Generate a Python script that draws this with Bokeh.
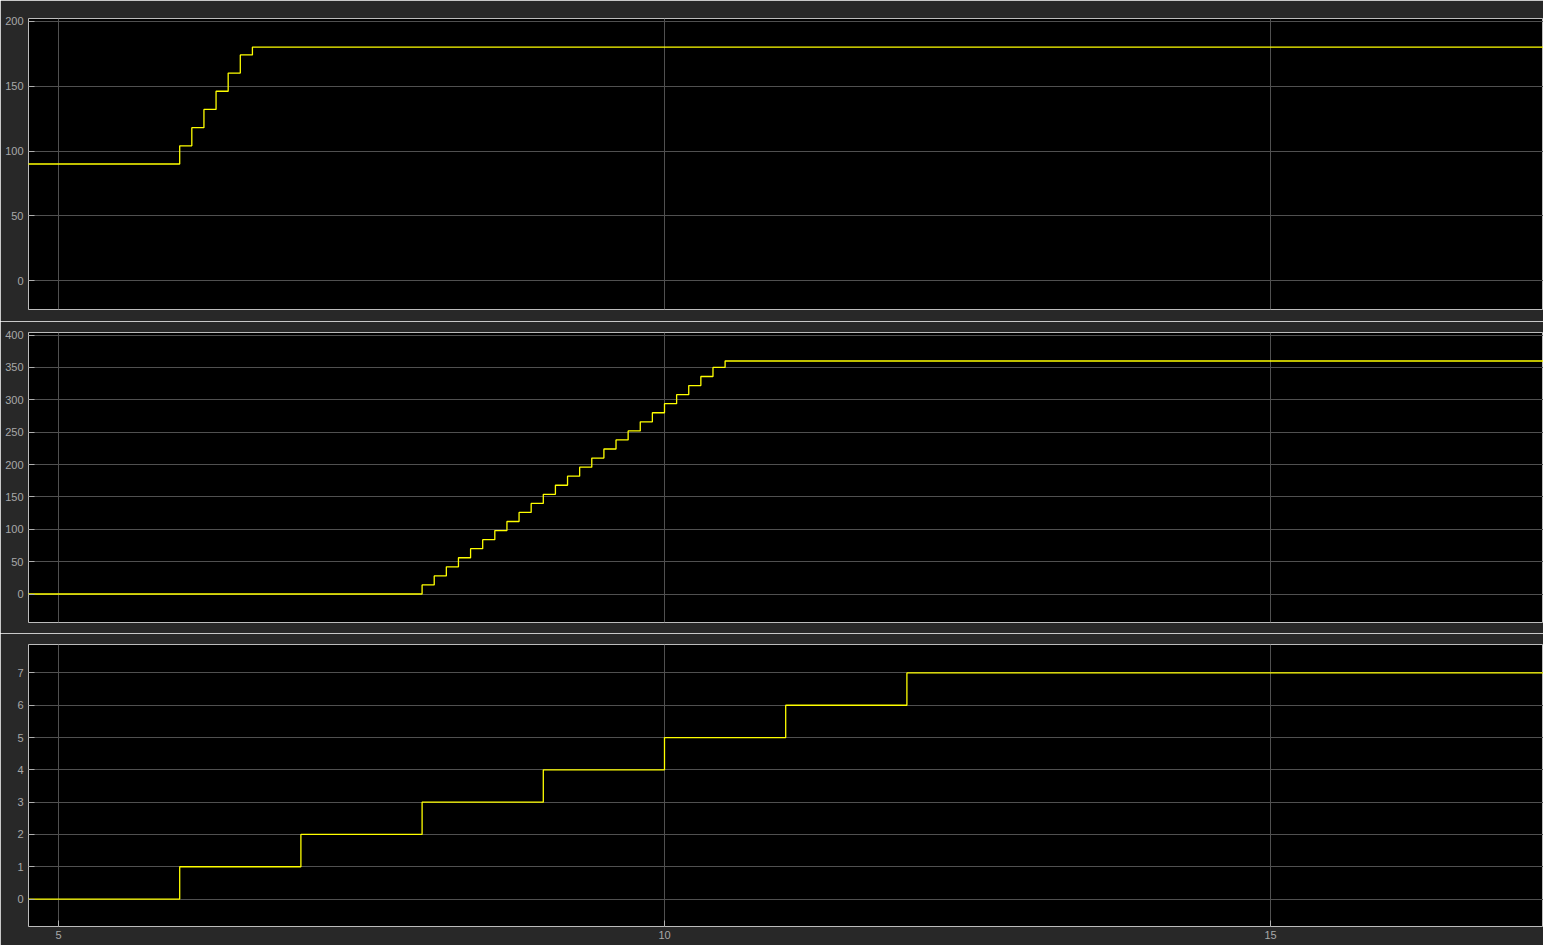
from bokeh.plotting import figure
from bokeh.layouts import column
from bokeh.models import Range1d, FixedTicker
from bokeh.embed import file_html
from bokeh.resources import INLINE

# ---- data ----
t1 = [4.6, 6.0, 6.1, 6.2, 6.3, 6.4, 6.5, 6.6, 17.5]
y1 = [90, 104, 118, 132, 146, 160, 174, 180, 180]

t2 = [4.6, 8.0, 8.1, 8.2, 8.3, 8.4, 8.5, 8.6, 8.7, 8.8, 8.9,
      9.0, 9.1, 9.2, 9.3, 9.4, 9.5, 9.6, 9.7, 9.8, 9.9,
      10.0, 10.1, 10.2, 10.3, 10.4, 10.5, 17.5]
y2 = [0, 14, 28, 42, 56, 70, 84, 98, 112, 126, 140,
      154, 168, 182, 196, 210, 224, 238, 252, 266, 280,
      294, 308, 322, 336, 350, 360, 360]

t3 = [4.6, 6, 7, 8, 9, 10, 11, 12, 17.5]
y3 = [0, 1, 2, 3, 4, 5, 6, 7, 7]

x_ticks = [5, 10, 15]
y_ticks1 = [0, 50, 100, 150, 200]
y_ticks2 = [0, 50, 100, 150, 200, 250, 300, 350, 400]
y_ticks3 = [0, 1, 2, 3, 4, 5, 6, 7]

# ---- style ----
BG = "#000000"
BORDER = "#282828"
GRID = "#505050"
TICK = "#b0b0b0"
FRAME = "#bcbcbc"
LABEL = "#a8a8a8"
LINE = "#ffff00"
FONT = "Liberation Sans Narrow, Liberation Sans, sans-serif"
W = 1543
LEFT = 28
X0 = 4.7525
X1 = 17.2525


def make_panel(height, top, bottom, yr, yticks, show_x):
    p = figure(width=W, height=height, output_backend="svg", toolbar_location=None,
               x_range=Range1d(X0, X1), y_range=Range1d(*yr),
               min_border_left=LEFT, min_border_right=0,
               min_border_top=top, min_border_bottom=bottom,
               background_fill_color=BG, border_fill_color=BORDER,
               outline_line_color=FRAME, outline_line_width=1)
    p.xaxis.ticker = FixedTicker(ticks=x_ticks)
    p.yaxis.ticker = FixedTicker(ticks=yticks)
    for ax in (p.xaxis, p.yaxis):
        ax.axis_line_color = None
        ax.major_tick_in = 6
        ax.major_tick_out = 0
        ax.major_tick_line_color = TICK
        ax.minor_tick_line_color = None
        ax.major_label_text_color = LABEL
        ax.major_label_text_font = FONT
        ax.major_label_text_font_size = "11px"
        ax.major_label_standoff = 4
    p.yaxis.major_label_standoff = 5
    if not show_x:
        p.xaxis.visible = False
    p.xgrid.ticker = FixedTicker(ticks=x_ticks)
    p.ygrid.ticker = FixedTicker(ticks=yticks)
    p.grid.grid_line_color = GRID
    p.grid.grid_line_width = 1
    return p


p1 = make_panel(321, 18, 12, (-22, 202), y_ticks1, False)
p1.step(t1, y1, mode="after", line_color=LINE, line_width=1.3)

p2 = make_panel(312, 11, 11, (-44, 404), y_ticks2, False)
p2.step(t2, y2, mode="after", line_color=LINE, line_width=1.3)

p3 = make_panel(312, 11, 19, (-0.85, 7.88), y_ticks3, True)
p3.step(t3, y3, mode="after", line_color=LINE, line_width=1.3)

layout = column(p1, p2, p3, spacing=0)
open("out.html", "w").write(file_html(layout, INLINE))
